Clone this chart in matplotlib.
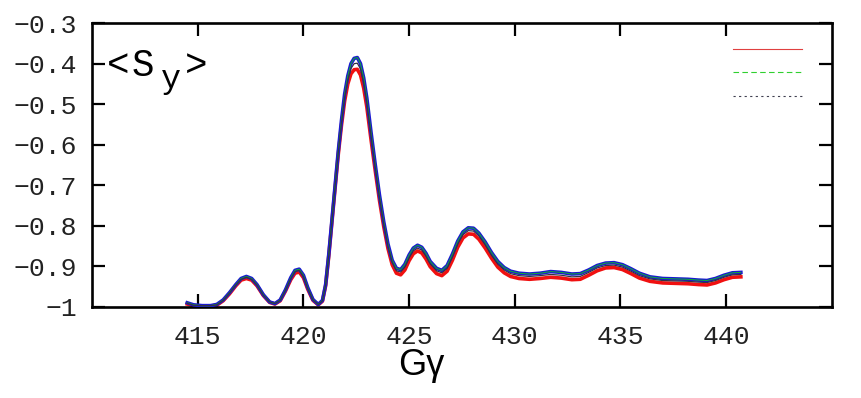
import matplotlib
matplotlib.use("Agg")
import matplotlib.pyplot as plt
from matplotlib.lines import Line2D

# G*gamma values and <S_y>
g_gamma = [414.5, 414.8, 415.2, 415.6, 415.9, 416.2, 416.5, 416.8, 417.05, 417.3,
           417.55, 417.8, 418.1, 418.4, 418.65, 418.9, 419.15, 419.4, 419.6, 419.8,
           420.0, 420.2, 420.45, 420.7, 420.9, 421.05, 421.2, 421.35, 421.5, 421.65,
           421.8, 421.95, 422.1, 422.25, 422.4, 422.55, 422.7, 422.85, 423.0, 423.2,
           423.4, 423.6, 423.8, 424.0, 424.2, 424.4, 424.6, 424.8, 425.0, 425.2,
           425.4, 425.6, 425.8, 426.0, 426.3, 426.55, 426.8, 427.05, 427.3, 427.55,
           427.8, 428.05, 428.3, 428.6, 428.9, 429.2, 429.5, 429.8, 430.2, 430.7,
           431.2, 431.7, 432.2, 432.7, 433.1, 433.5, 433.9, 434.3, 434.7, 435.1,
           435.5, 435.9, 436.4, 437.0, 437.6, 438.2, 438.7, 439.1, 439.5, 439.9,
           440.3, 440.7]

sy_blue = [-0.990, -0.995, -0.997, -0.997, -0.994, -0.983, -0.965, -0.945, -0.930, -0.925,
           -0.930, -0.945, -0.970, -0.988, -0.992, -0.983, -0.958, -0.928, -0.910, -0.907,
           -0.922, -0.952, -0.982, -0.994, -0.984, -0.945, -0.870, -0.785, -0.700, -0.615,
           -0.540, -0.475, -0.430, -0.400, -0.387, -0.385, -0.400, -0.435, -0.485, -0.570,
           -0.650, -0.725, -0.790, -0.845, -0.885, -0.905, -0.908, -0.895, -0.872, -0.855,
           -0.848, -0.853, -0.868, -0.888, -0.905, -0.910, -0.898, -0.870, -0.838, -0.815,
           -0.805, -0.806, -0.818, -0.840, -0.866, -0.888, -0.903, -0.912, -0.917, -0.919,
           -0.917, -0.913, -0.915, -0.919, -0.918, -0.909, -0.898, -0.892, -0.891, -0.896,
           -0.906, -0.917, -0.926, -0.930, -0.931, -0.932, -0.934, -0.935, -0.930, -0.922,
           -0.916, -0.915]

sy_red = [-0.993, -0.997, -0.998, -0.998, -0.996, -0.985, -0.968, -0.948, -0.934, -0.930,
          -0.934, -0.948, -0.972, -0.989, -0.993, -0.985, -0.961, -0.933, -0.917, -0.914,
          -0.928, -0.956, -0.984, -0.995, -0.986, -0.948, -0.874, -0.790, -0.706, -0.623,
          -0.552, -0.492, -0.450, -0.425, -0.415, -0.414, -0.428, -0.460, -0.507, -0.588,
          -0.665, -0.738, -0.802, -0.856, -0.896, -0.917, -0.921, -0.909, -0.886, -0.869,
          -0.862, -0.867, -0.882, -0.901, -0.918, -0.923, -0.912, -0.885, -0.853, -0.830,
          -0.820, -0.821, -0.833, -0.855, -0.880, -0.902, -0.916, -0.925, -0.930, -0.932,
          -0.930, -0.927, -0.929, -0.933, -0.932, -0.922, -0.911, -0.904, -0.903, -0.908,
          -0.918, -0.929, -0.937, -0.941, -0.942, -0.943, -0.945, -0.946, -0.941, -0.933,
          -0.927, -0.926]

sy_mid = [-0.991, -0.996, -0.997, -0.997, -0.995, -0.984, -0.966, -0.946, -0.932, -0.927,
          -0.932, -0.946, -0.971, -0.988, -0.992, -0.984, -0.959, -0.930, -0.913, -0.910,
          -0.925, -0.954, -0.983, -0.994, -0.985, -0.946, -0.872, -0.787, -0.703, -0.619,
          -0.546, -0.483, -0.440, -0.412, -0.400, -0.399, -0.413, -0.447, -0.496, -0.579,
          -0.657, -0.731, -0.796, -0.850, -0.890, -0.911, -0.914, -0.902, -0.879, -0.862,
          -0.855, -0.860, -0.875, -0.894, -0.911, -0.916, -0.905, -0.877, -0.845, -0.822,
          -0.812, -0.813, -0.825, -0.847, -0.873, -0.895, -0.909, -0.918, -0.923, -0.925,
          -0.923, -0.920, -0.922, -0.926, -0.925, -0.915, -0.904, -0.898, -0.897, -0.902,
          -0.912, -0.923, -0.931, -0.935, -0.936, -0.937, -0.939, -0.940, -0.935, -0.927,
          -0.921, -0.920]

x_ticks = [415, 420, 425, 430, 435, 440]
y_ticks = [-1.0, -0.9, -0.8, -0.7, -0.6, -0.5, -0.4, -0.3]
y_ticklabels = ["\u22121", "\u22120.9", "\u22120.8", "\u22120.7", "\u22120.6",
                "\u22120.5", "\u22120.4", "\u22120.3"]

fig = plt.figure(figsize=(8.61, 3.98), dpi=100)
ax = fig.add_axes([0.107, 0.229, 0.859, 0.713])

ax.plot(g_gamma, sy_blue, color="#1a1ad0", lw=2.6, zorder=3)
ax.plot(g_gamma, sy_red, color="#f01010", lw=2.6, zorder=2)
ax.plot(g_gamma, sy_blue, color="#10b030", lw=0.7, zorder=4)
ax.plot(g_gamma, sy_mid, color="#333344", lw=0.9, zorder=5)

ax.set_xlim(410, 445)
ax.set_ylim(-1.0, -0.3)
ax.set_xticks(x_ticks)
ax.set_xticklabels([str(t) for t in x_ticks])
ax.set_yticks(y_ticks)
ax.set_yticklabels(y_ticklabels)

ax.tick_params(direction="in", length=9.5, width=1.6, top=True, right=True,
               labelsize=19, colors="black")
ax.tick_params(axis="y", pad=11)
ax.tick_params(axis="x", pad=13)
for lab in ax.get_xticklabels() + ax.get_yticklabels():
    lab.set_family("Liberation Mono")
    lab.set_color("#222222")
for s in ax.spines.values():
    s.set_linewidth(1.9)

ax.text(0.445, -0.205, "G\u03b3", transform=ax.transAxes, ha="center", va="center",
        fontsize=26, family="Liberation Sans")

# <S_y> built from pieces, Courier-like
ax.text(0.020, 0.815, "<", transform=ax.transAxes, ha="left", va="baseline",
        fontsize=27, family="Liberation Mono")
ax.text(0.054, 0.815, "S", transform=ax.transAxes, ha="left", va="baseline",
        fontsize=27, family="Liberation Mono")
ax.text(0.093, 0.770, "y", transform=ax.transAxes, ha="left", va="baseline",
        fontsize=24, family="Liberation Mono")
ax.text(0.125, 0.815, ">", transform=ax.transAxes, ha="left", va="baseline",
        fontsize=27, family="Liberation Mono")

handles = [Line2D([], [], color="#e04040", lw=0.8),
           Line2D([], [], color="#30d030", lw=0.8, ls=(0, (5, 3))),
           Line2D([], [], color="#404050", lw=0.8, ls=(0, (2, 3)))]
ax.legend(handles, ["", "", ""], loc="upper right", frameon=False,
          handlelength=5.0, fontsize=10, labelspacing=0.68,
          bbox_to_anchor=(0.977, 0.975), handletextpad=0.0)

fig.savefig("out.png", dpi=100)
